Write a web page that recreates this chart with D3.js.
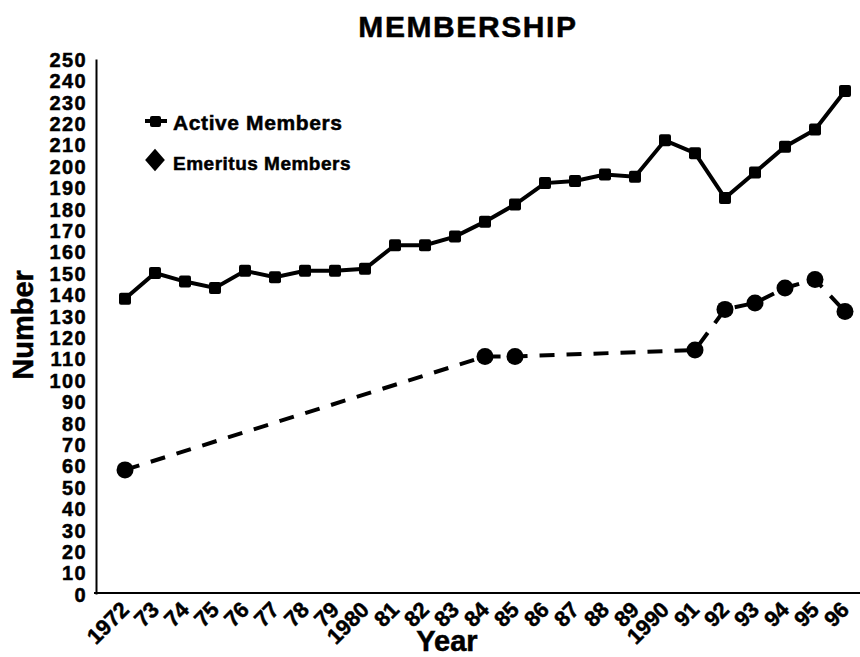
<!DOCTYPE html>
<html>
<head>
<meta charset="utf-8">
<script src="https://cdn.jsdelivr.net/npm/d3@7"></script>
<style>
  body { margin: 0; background: #fff; }
  text { font-family: "Liberation Sans", Arial, Helvetica, sans-serif; font-weight: bold; fill: #000; stroke: #000; stroke-width: 0.5px; }
</style>
</head>
<body>
<div id="chart"></div>
<script>
// data ---------------------------------------------------
var years = [1972, 1973, 1974, 1975, 1976, 1977, 1978, 1979, 1980, 1981, 1982, 1983,
             1984, 1985, 1986, 1987, 1988, 1989, 1990, 1991, 1992, 1993, 1994, 1995, 1996];
var yearLabels = ["1972", "73", "74", "75", "76", "77", "78", "79", "1980", "81", "82", "83",
                  "84", "85", "86", "87", "88", "89", "1990", "91", "92", "93", "94", "95", "96"];
var activeMembers = [138, 150, 146, 143, 151, 148, 151, 151, 152, 163, 163, 167,
                     174, 182, 192, 193, 196, 195, 212, 206, 185, 197, 209, 217, 235];
var emeritusYears = [1972, 1984, 1985, 1991, 1992, 1993, 1994, 1995, 1996];
var emeritusMembers = [58, 111, 111, 114, 133, 136, 143, 147, 132];
var yTicks = d3.range(0, 251, 10);

// 1. Set up SVG ------------------------------------------
var svgWidth = 860;
var svgHeight = 657;

var svg = d3.select("#chart")
  .append("svg")
  .attr("width", svgWidth)
  .attr("height", svgHeight);

// scales
var xScale = d3.scaleLinear()
  .domain([1972, 1996])
  .range([125, 845]);

var yScale = d3.scaleLinear()
  .domain([0, 250])
  .range([594, 59]);

// 2. Title -----------------------------------------------
svg.append("text")
  .attr("x", 468)
  .attr("y", 37)
  .attr("text-anchor", "middle")
  .style("font-size", "30px")
  .style("letter-spacing", "1.6px")
  .text("MEMBERSHIP");

// 3. Axes ------------------------------------------------
var yAxis = d3.axisLeft(yScale)
  .tickValues(yTicks)
  .tickSize(0)
  .tickPadding(9)
  .tickFormat(d3.format("d"));

var yAxisGroup = svg.append("g")
  .attr("transform", "translate(96,0)")
  .call(yAxis);
yAxisGroup.select(".domain").attr("stroke", "#000").attr("stroke-width", 2);
yAxisGroup.selectAll("text")
  .attr("dy", "0.36em")
  .style("font-size", "20px")
  .style("letter-spacing", "1.4px")
  .style("font-family", null);

var xAxis = d3.axisBottom(xScale)
  .tickValues(years)
  .tickSize(0)
  .tickFormat((d, i) => yearLabels[i]);

var xAxisGroup = svg.append("g")
  .attr("transform", "translate(0,593)")
  .call(xAxis);
xAxisGroup.select(".domain").remove();
xAxisGroup.selectAll("text")
  .attr("x", 0)
  .attr("y", 0)
  .attr("dy", 0)
  .attr("transform", "translate(5,18) rotate(-45)")
  .style("text-anchor", "end")
  .style("font-size", "22px")
  .style("font-family", null);

// x baseline runs past the last year
svg.append("line")
  .attr("x1", 94)
  .attr("x2", 860)
  .attr("y1", 593)
  .attr("y2", 593)
  .attr("stroke", "#000")
  .attr("stroke-width", 2);

// axis titles
svg.append("text")
  .attr("transform", "translate(33,325) rotate(-90)")
  .attr("text-anchor", "middle")
  .style("font-size", "29px")
  .text("Number");

svg.append("text")
  .attr("x", 447)
  .attr("y", 651)
  .attr("text-anchor", "middle")
  .style("font-size", "29px")
  .text("Year");

// 4. Lines -----------------------------------------------
var activeLine = d3.line()
  .x((d, i) => xScale(years[i]))
  .y(d => yScale(d));

svg.append("path")
  .datum(activeMembers)
  .attr("d", activeLine)
  .attr("fill", "none")
  .attr("stroke", "#000")
  .attr("stroke-width", 4);

var emeritusLine = d3.line()
  .x((d, i) => xScale(emeritusYears[i]))
  .y(d => yScale(d));

svg.append("path")
  .datum(emeritusMembers)
  .attr("d", emeritusLine)
  .attr("fill", "none")
  .attr("stroke", "#000")
  .attr("stroke-width", 4)
  .attr("stroke-dasharray", "15,12");

// markers
svg.append("g").selectAll("rect").data(activeMembers).enter().append("rect")
  .attr("x", (d, i) => xScale(years[i]) - 6)
  .attr("y", d => yScale(d) - 6)
  .attr("width", 12)
  .attr("height", 12)
  .attr("rx", 2)
  .attr("fill", "#000");

svg.append("g").selectAll("circle").data(emeritusMembers).enter().append("circle")
  .attr("cx", (d, i) => xScale(emeritusYears[i]))
  .attr("cy", d => yScale(d))
  .attr("r", 8.5)
  .attr("fill", "#000");

// 5. Legend ----------------------------------------------
var legend = svg.append("g");

legend.append("line")
  .attr("x1", 145)
  .attr("x2", 167)
  .attr("y1", 121)
  .attr("y2", 121)
  .attr("stroke", "#000")
  .attr("stroke-width", 4);
legend.append("rect")
  .attr("x", 150)
  .attr("y", 116)
  .attr("width", 11)
  .attr("height", 11)
  .attr("rx", 2)
  .attr("fill", "#000");
legend.append("text")
  .attr("x", 173)
  .attr("y", 130)
  .style("font-size", "21px")
  .style("letter-spacing", "0.6px")
  .text("Active Members");

legend.append("path")
  .attr("d", d3.symbol().type(d3.symbolDiamond).size(200)())
  .attr("transform", "translate(155,160) scale(1.3,0.85)")
  .attr("fill", "#000");
legend.append("text")
  .attr("x", 173)
  .attr("y", 170)
  .style("font-size", "19px")
  .style("letter-spacing", "0.5px")
  .text("Emeritus Members");
</script>
</body>
</html>
